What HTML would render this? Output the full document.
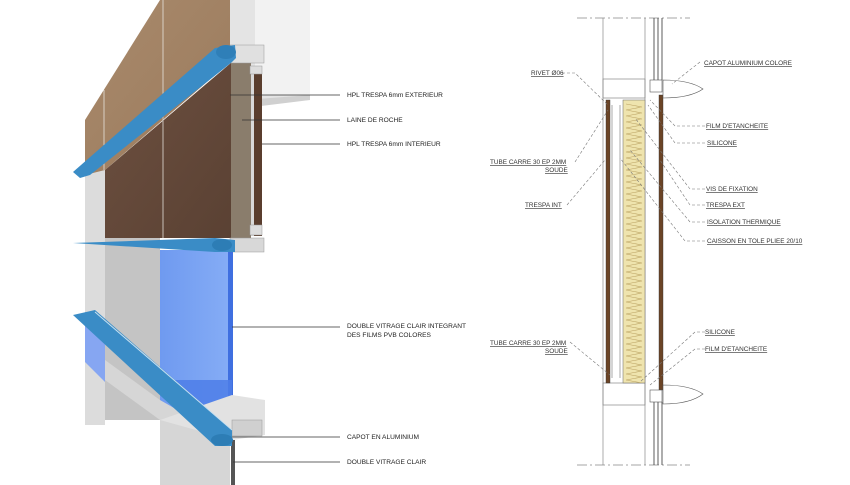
<!DOCTYPE html>
<html><head><meta charset="utf-8"><style>
html,body{margin:0;padding:0;background:#fff;}
svg{display:block;}
text{font-family:"Liberation Sans",sans-serif;font-size:6.6px;fill:#222;}
.r text{fill:#333;font-size:6.4px;text-decoration:underline;}
</style></head><body>
<svg width="850" height="485" viewBox="0 0 850 485" xmlns="http://www.w3.org/2000/svg">
<defs>
<linearGradient id="lw" x1="0" y1="0" x2="1" y2="1"><stop offset="0" stop-color="#a98a6c"/><stop offset="1" stop-color="#9a7a5c"/></linearGradient>
<linearGradient id="dw" x1="0" y1="0" x2="1" y2="1"><stop offset="0" stop-color="#6d5040"/><stop offset="1" stop-color="#5a4133"/></linearGradient>
<linearGradient id="gl" x1="0" y1="0" x2="1" y2="0"><stop offset="0" stop-color="#6f9af0"/><stop offset="1" stop-color="#86adf6"/></linearGradient>
<clipPath id="ins"><rect x="623" y="100" width="22" height="283"/></clipPath>
</defs>
<!-- LEFT 3D drawing -->
<rect x="230" y="0" width="80" height="100" fill="#e4e4e4"/>
<rect x="255" y="0" width="55" height="95" fill="#f2f2f2"/>
<polygon points="245,100 310,95 310,100 245,108" fill="#d0d0d0"/>
<!-- gray glazing left -->
<rect x="85" y="170" width="20" height="255" fill="#dcdcdc"/>
<rect x="105" y="170" width="55" height="250" fill="#c4c4c4"/>
<rect x="160" y="250" width="72" height="190" fill="#d0d0d0"/>
<!-- light wood -->
<polygon points="85,120 160,0 230,0 230,62 105,170 85,175" fill="url(#lw)"/>
<line x1="104" y1="90" x2="104" y2="170" stroke="#d8cfc4" stroke-width="1"/>
<line x1="163" y1="0" x2="163" y2="110" stroke="#d8cfc4" stroke-width="1"/>
<!-- dark wood front -->
<polygon points="105,170 232,62 232,238 105,238" fill="url(#dw)"/>
<line x1="163" y1="115" x2="163" y2="238" stroke="#c8c0b8" stroke-width="1"/>
<!-- panel edge section -->
<rect x="231" y="62" width="20" height="176" fill="#8a7d6c"/>
<rect x="251" y="70" width="3" height="166" fill="#d9d9d9"/>
<rect x="254" y="72" width="8" height="164" fill="#5a3e2e"/>
<rect x="250" y="66" width="12" height="8" fill="#ddd" stroke="#999" stroke-width=".5"/>
<rect x="250" y="225" width="12" height="10" fill="#ddd" stroke="#999" stroke-width=".5"/>
<rect x="230" y="45" width="34" height="18" fill="#e0e0e0" stroke="#999" stroke-width=".5"/>
<rect x="230" y="238" width="34" height="14" fill="#d8d8d8" stroke="#999" stroke-width=".5"/>
<!-- blue glass -->
<rect x="160" y="250" width="72" height="190" fill="url(#gl)"/>
<rect x="228" y="250" width="5" height="190" fill="#3f6fe0"/>
<polygon points="85,312 105,322 105,382 85,362" fill="#86a6f2"/>
<polygon points="160,380 232,380 232,440 215,440" fill="#4e7ee8" opacity=".85"/>
<!-- bottom profile -->
<polygon points="105,380 160,420 160,485 230,485 230,440 160,400 105,360" fill="#d6d6d6"/>
<polygon points="160,420 232,395 265,400 265,435 232,440" fill="#e2e2e2"/>
<rect x="232" y="420" width="30" height="16" fill="#d0d0d0" stroke="#999" stroke-width=".5"/>
<rect x="231" y="440" width="4" height="45" fill="#555"/>
<!-- blue capots -->
<polygon points="73,172 215,48 235,45 236,58 232,62 90,175 80,178" fill="#3a8cc6"/>
<ellipse cx="226" cy="52" rx="10" ry="7" fill="#2f7fb8"/>
<polygon points="73,243 215,238 235,240 235,252 215,252" fill="#3a8cc6"/>
<ellipse cx="222" cy="245" rx="10" ry="6" fill="#2d7db5"/>
<polygon points="73,315 95,310 232,430 232,446 215,446" fill="#3a8cc6"/>
<ellipse cx="222" cy="440" rx="11" ry="6" fill="#2d7db5"/>
<line x1="95" y1="312" x2="232" y2="430" stroke="#c8e0f0" stroke-width="1"/>
<!-- left leaders -->
<g stroke="#333" stroke-width=".8">
<line x1="230" y1="95" x2="340" y2="95"/>
<line x1="242" y1="120" x2="340" y2="120"/>
<line x1="262" y1="144" x2="340" y2="144"/>
<line x1="232" y1="327" x2="340" y2="327"/>
<line x1="232" y1="437" x2="340" y2="437"/>
<line x1="233" y1="462" x2="340" y2="462"/>
</g>
<text x="347" y="97">HPL TRESPA 6mm EXTERIEUR</text>
<text x="347" y="122">LAINE DE ROCHE</text>
<text x="347" y="146">HPL TRESPA 6mm INTERIEUR</text>
<text x="347" y="328">DOUBLE VITRAGE CLAIR INTEGRANT</text>
<text x="347" y="337">DES FILMS PVB COLORES</text>
<text x="347" y="439">CAPOT EN ALUMINIUM</text>
<text x="347" y="464">DOUBLE VITRAGE CLAIR</text>

<!-- RIGHT section -->
<g stroke="#888" stroke-width=".7" fill="none">
<line x1="577" y1="18" x2="690" y2="18" stroke-dasharray="10,3,2,3"/>
<line x1="577" y1="465" x2="690" y2="465" stroke-dasharray="10,3,2,3"/>
<line x1="603" y1="18" x2="603" y2="465"/>
<line x1="645" y1="18" x2="645" y2="465"/>
<rect x="603" y="79" width="42" height="19"/>
<rect x="603" y="383" width="42" height="22"/>
</g>
<g stroke="#333" stroke-width=".8">
<line x1="654" y1="18" x2="654" y2="85"/><line x1="658" y1="18" x2="658" y2="85"/><line x1="662" y1="18" x2="662" y2="80"/>
<line x1="654" y1="398" x2="654" y2="465"/><line x1="658" y1="398" x2="658" y2="465"/><line x1="662" y1="402" x2="662" y2="465"/>
</g>
<rect x="606" y="100" width="4" height="283" fill="#6b4426" stroke="#333" stroke-width=".4"/>
<line x1="612" y1="105" x2="612" y2="378" stroke="#555" stroke-width=".5"/>
<line x1="620" y1="105" x2="620" y2="378" stroke="#555" stroke-width=".5"/>
<rect x="623" y="100" width="22" height="283" fill="#efe4ae" stroke="#666" stroke-width=".5"/>
<g clip-path="url(#ins)">
<path d="M626,104 l16,3 l-16,3 l16,3 l-16,3 l16,3 l-16,3 l16,3 l-16,3 l16,3 l-16,3 l16,3 l-16,3 l16,3 l-16,3 l16,3 l-16,3 l16,3 l-16,3 l16,3 l-16,3 l16,3 l-16,3 l16,3 l-16,3 l16,3 l-16,3 l16,3 l-16,3 l16,3 l-16,3 l16,3 l-16,3 l16,3 l-16,3 l16,3 l-16,3 l16,3 l-16,3 l16,3 l-16,3 l16,3 l-16,3 l16,3 l-16,3 l16,3 l-16,3 l16,3 l-16,3 l16,3 l-16,3 l16,3 l-16,3 l16,3 l-16,3 l16,3 l-16,3 l16,3 l-16,3 l16,3 l-16,3 l16,3 l-16,3 l16,3 l-16,3 l16,3 l-16,3 l16,3 l-16,3 l16,3 l-16,3 l16,3 l-16,3 l16,3 l-16,3 l16,3 l-16,3 l16,3 l-16,3 l16,3 l-16,3 l16,3 l-16,3 l16,3 l-16,3 l16,3 l-16,3 l16,3 l-16,3 l16,3 l-16,3 l16,3 l-16,3 l16,3 l-16,3 l16,3 l-16,3 l16,3 l-16,3 l16,3" fill="none" stroke="#b9a060" stroke-width=".6"/>
</g>
<rect x="659" y="95" width="4" height="295" fill="#6b4426" stroke="#333" stroke-width=".4"/>
<g fill="#fff" stroke="#555" stroke-width=".6">
<path d="M663,80 Q690,80 703,89 Q690,98 663,98 Z"/>
<path d="M663,385 Q690,385 703,394 Q690,404 663,404 Z"/>
<rect x="650" y="80" width="12" height="12"/><rect x="650" y="390" width="12" height="12"/>
</g>
<g class="r">
<g stroke="#777" stroke-width=".6" stroke-dasharray="3,2" fill="none">
<path d="M562,73 L575,73 L608,105"/>
<path d="M700,62 L672,84"/>
<path d="M705,126 L675,126 L650,100"/>
<path d="M705,143 L675,143 L648,105"/>
<path d="M575,162 L608,110"/>
<path d="M567,205 L605,160"/>
<path d="M705,189 L690,189 L635,118"/>
<path d="M705,205 L690,205 L660,160"/>
<path d="M705,222 L690,222 L630,150"/>
<path d="M705,241 L685,241 L620,158"/>
<path d="M570,342 L610,375"/>
<path d="M705,332 L695,332 L640,382"/>
<path d="M705,349 L695,349 L650,385"/>
</g>
<text x="531" y="75">RIVET Ø06</text>
<text x="704" y="65">CAPOT ALUMINIUM COLORE</text>
<text x="706" y="128">FILM D'ETANCHEITE</text>
<text x="707" y="145">SILICONE</text>
<text x="490" y="164">TUBE CARRE 30 EP 2MM</text>
<text x="545" y="172">SOUDE</text>
<text x="706" y="191">VIS DE FIXATION</text>
<text x="525" y="207">TRESPA INT</text>
<text x="706" y="207">TRESPA EXT</text>
<text x="707" y="224">ISOLATION THERMIQUE</text>
<text x="707" y="243">CAISSON EN TOLE PLIEE 20/10</text>
<text x="490" y="345">TUBE CARRE 30 EP 2MM</text>
<text x="545" y="353">SOUDE</text>
<text x="705" y="334">SILICONE</text>
<text x="705" y="351">FILM D'ETANCHEITE</text>
</g>
</svg>
</body></html>
